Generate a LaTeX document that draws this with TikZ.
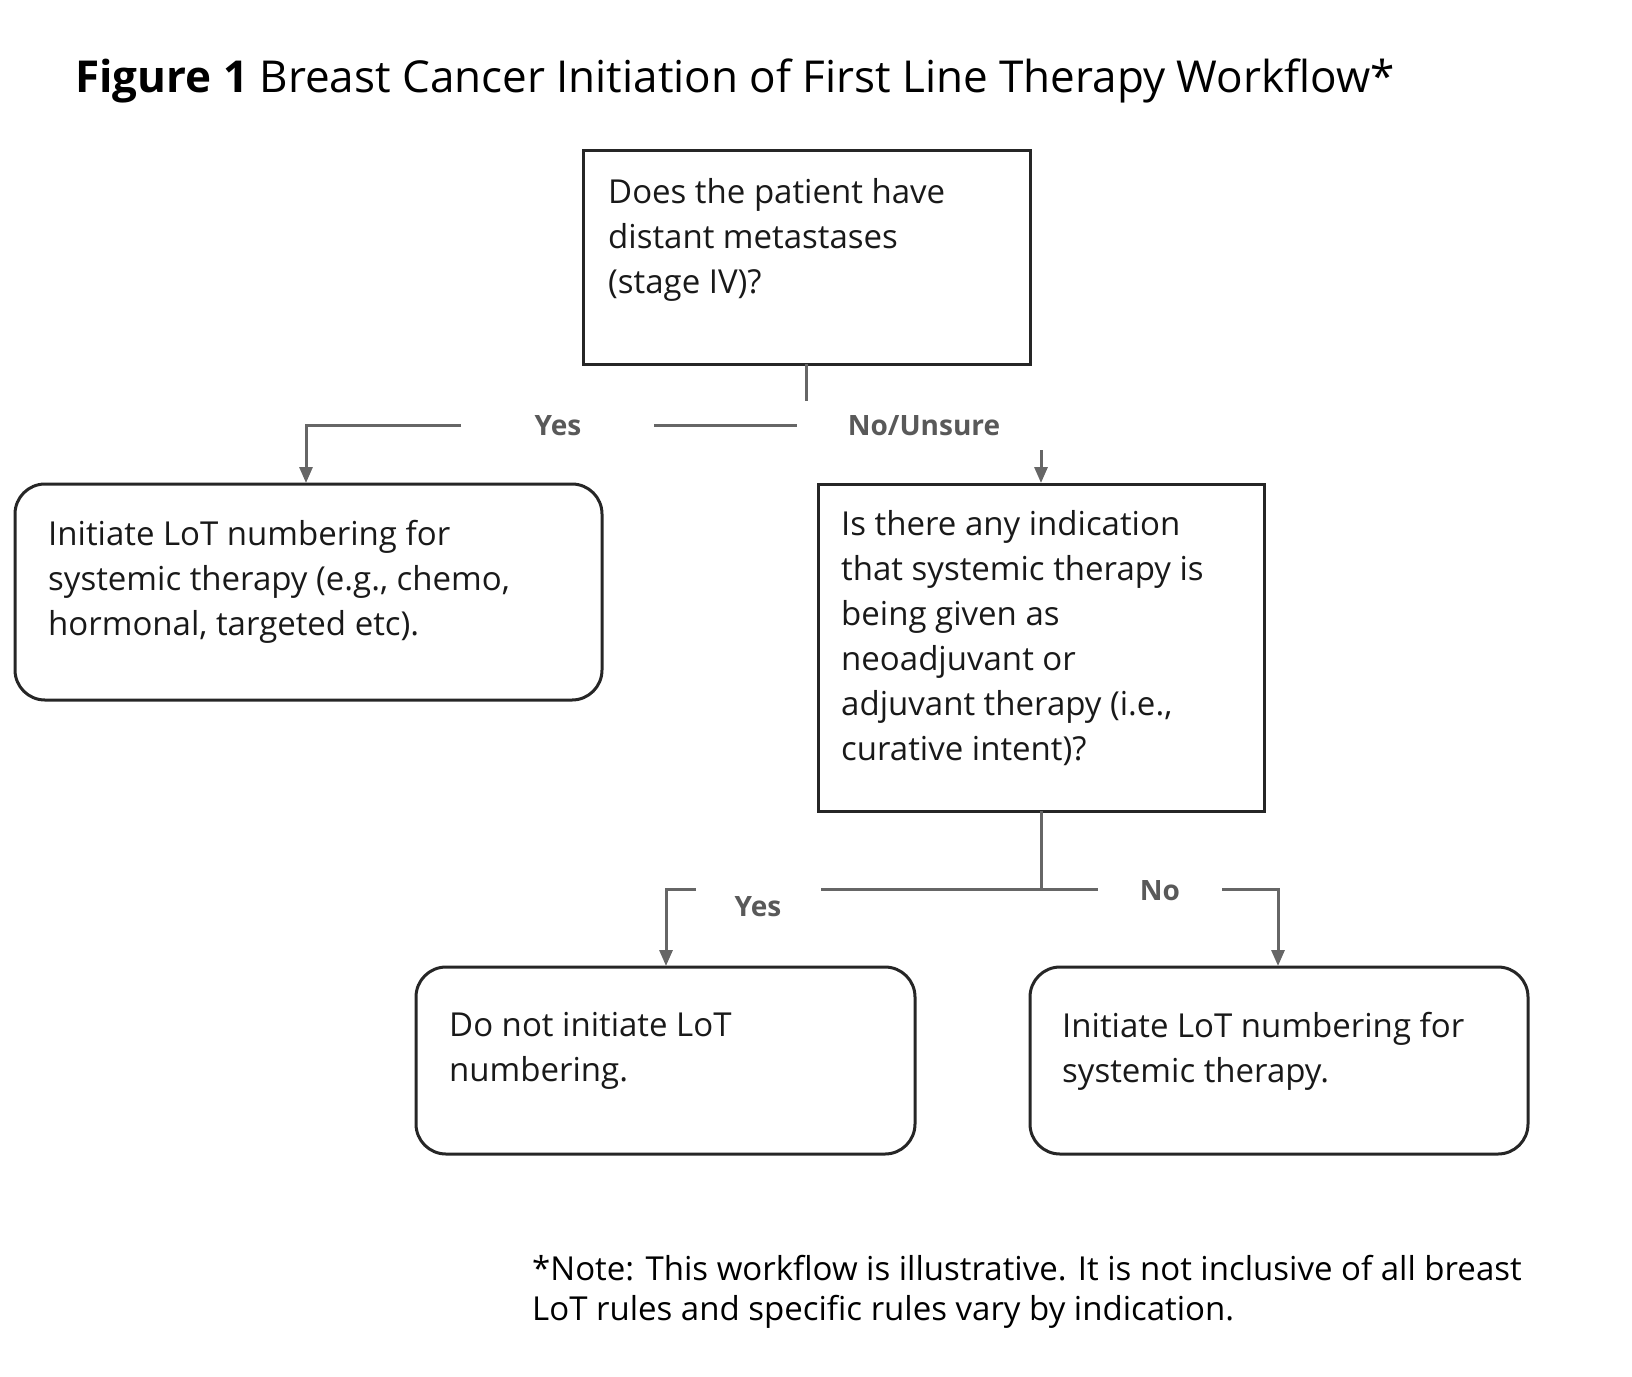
\documentclass[tikz,border=0pt]{standalone}
\usepackage{fontspec}
\setmainfont{Open Sans}
\usetikzlibrary{arrows.meta}
\begin{document}
\begin{tikzpicture}[x=1pt,y=-1pt,
  box/.style={draw=black!85,line width=3pt},
  txt/.style={anchor=north west,inner sep=0pt,align=left,font=\fontsize{33}{45}\selectfont,text=black!90},
  lbl/.style={inner sep=2pt,font=\fontsize{28}{30}\selectfont\bfseries,text=black!65},
  conn/.style={draw=black!60,line width=3pt},
  arr/.style={conn,-{Triangle[length=16pt,width=13pt]}}]
\useasboundingbox (0,0) rectangle (1632,1376);
% title
\node[anchor=base west,inner sep=0pt,font=\fontsize{44}{50}\selectfont] (title) at (75,92) {\textbf{Figure 1} Breast Cancer Initiation of First Line Therapy Workflow*};
% boxes
\draw[box] (583,150) rectangle (1030,364);
\node[txt] (t1) at (608,178) {Does the patient have\\distant metastases\\(stage IV)?};
\draw[box,rounded corners=30pt] (15,484) rectangle (602,700);
\node[txt] (t2) at (48,520) {Initiate LoT numbering for\\systemic therapy (e.g., chemo,\\hormonal, targeted etc).};
\draw[box] (818,484) rectangle (1264,811);
\node[txt] (t3) at (841,510) {Is there any indication\\that systemic therapy is\\being given as\\neoadjuvant or\\adjuvant therapy (i.e.,\\curative intent)?};
\draw[box,rounded corners=30pt] (416,967) rectangle (915,1154);
\node[txt] (t4) at (449,1012) {Do not initiate LoT\\numbering.};
\draw[box,rounded corners=30pt] (1030,967) rectangle (1528,1154);
\node[txt] (t5) at (1062,1012) {Initiate LoT numbering for\\systemic therapy.};
% connectors
\coordinate (s1) at (806,364);
\coordinate (s1b) at (806,401);
\draw[conn] (s1) -- (s1b);
\coordinate (l1a) at (461,425); \coordinate (l1b) at (306,425); \coordinate (l1c) at (306,483);
\draw[arr] (l1a) -- (l1b) -- (l1c);
\coordinate (m1a) at (654,425); \coordinate (m1b) at (797,425);
\draw[conn] (m1a) -- (m1b);
\node[lbl] (yes1) at (558,426) {Yes};
\node[lbl] (no1) at (924,426) {No/Unsure};
\coordinate (r1a) at (1041,450); \coordinate (r1b) at (1041,483);
\draw[arr] (r1a) -- (r1b);
\coordinate (s2) at (1041,811); \coordinate (s2b) at (1041,889);
\draw[conn] (s2) -- (s2b);
\coordinate (h2a) at (821,889); \coordinate (h2b) at (1098,889);
\draw[conn] (h2a) -- (h2b);
\coordinate (l2a) at (696,889); \coordinate (l2b) at (666,889); \coordinate (l2c) at (666,966);
\draw[arr] (l2a) -- (l2b) -- (l2c);
\coordinate (r2a) at (1222,889); \coordinate (r2b) at (1278,889); \coordinate (r2c) at (1278,966);
\draw[arr] (r2a) -- (r2b) -- (r2c);
\node[lbl] (yes2) at (758,907) {Yes};
\node[lbl] (no2) at (1160,891) {No};
% note
\node[anchor=base west,inner sep=0pt,align=left,font=\fontsize{33}{40}\selectfont] (note) at (532,1280) {*Note: This workflow is illustrative. It is not inclusive of all breast};
\node[anchor=base west,inner sep=0pt,align=left,font=\fontsize{33}{40}\selectfont] (note2) at (532,1320) {LoT rules and specific rules vary by indication.};
\end{tikzpicture}
\end{document}
